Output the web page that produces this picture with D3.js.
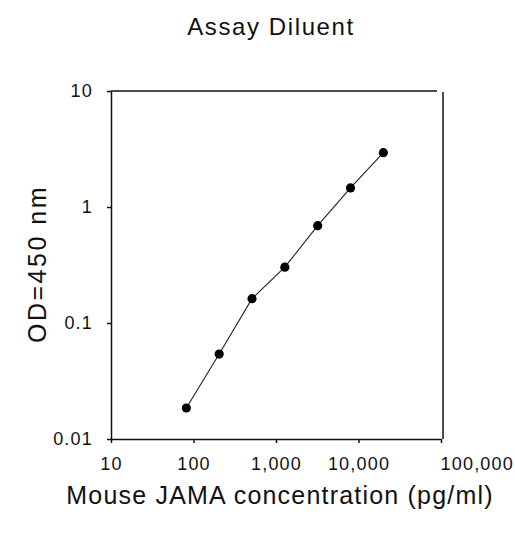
<!DOCTYPE html>
<html>
<head>
<meta charset="utf-8">
<script src="https://d3js.org/d3.v7.min.js"></script>
<style>
  body { margin: 0; background: #fff; }
  text { font-family: "Liberation Sans", Arial, sans-serif; fill: #111; }
  .axis path, .axis line { stroke: #111; stroke-width: 1.5px; }
  .axis text { font-size: 18px; letter-spacing: 1.2px; }
</style>
</head>
<body>
<svg id="chart"></svg>
<script>
// standard curve, 2.5-fold dilutions
const concentrations = [81.92, 204.8, 512, 1280, 3200, 8000, 20000];
const odValues = [0.0185, 0.054, 0.162, 0.303, 0.69, 1.46, 2.94];

const xTicks = [10, 100, 1000, 10000, 100000];
const xTickLabels = ['10', '100', '1,000', '10,000', '100,000'];
const yTicks = [0.01, 0.1, 1, 10];
const yTickLabels = ['0.01', '0.1', '1', '10'];

const data = concentrations.map((c, i) => ({conc: c, od: odValues[i]}));

const svgWidth = 515;
const svgHeight = 535;
const margin = {
  top: 91,
  right: 74,
  bottom: 96,
  left: 111
};
const width = svgWidth - margin.left - margin.right;
const height = svgHeight - margin.top - margin.bottom;

const x = d3.scaleLog()
    .domain([10, 100000])
    .range([0, width]);

const y = d3.scaleLog()
    .domain([0.01, 10])
    .range([height, 0]);

const xAxis = d3.axisBottom(x)
    .tickValues(xTicks)
    .tickFormat((d, i) => xTickLabels[i])
    .tickSize(4)
    .tickSizeOuter(0)
    .tickPadding(14);

const yAxis = d3.axisLeft(y)
    .tickValues(yTicks)
    .tickFormat((d, i) => yTickLabels[i])
    .tickSize(4)
    .tickSizeOuter(0)
    .tickPadding(14);

const svg = d3.select('#chart')
    .attr('width', svgWidth)
    .attr('height', svgHeight);

const chart = svg.append('g')
    .attr('transform', `translate(${margin.left},${margin.top})`);

const gx = chart.append('g')
    .attr('class', 'x axis')
    .attr('transform', `translate(0,${height})`)
    .call(xAxis);

// last label is pushed off to the right of the corner
gx.selectAll('.tick:last-of-type text')
    .style('text-anchor', 'start')
    .attr('dx', -1);

chart.append('g')
    .attr('class', 'y axis')
    .call(yAxis);

// top and right frame lines (the right one sits a little outside)
chart.append('line')
    .attr('x1', 0)
    .attr('x2', width - 4)
    .attr('y1', 0)
    .attr('y2', 0)
    .attr('stroke', '#111')
    .attr('stroke-width', 1.5);

chart.append('line')
    .attr('x1', width + 2)
    .attr('x2', width + 2)
    .attr('y1', 1)
    .attr('y2', height)
    .attr('stroke', '#111')
    .attr('stroke-width', 1.5);

const line = d3.line()
    .x(d => x(d.conc))
    .y(d => y(d.od));

chart.append('path')
    .datum(data)
    .attr('fill', 'none')
    .attr('stroke', '#222')
    .attr('stroke-width', 1.1)
    .attr('d', line);

chart.selectAll('.dot')
    .data(data)
  .enter().append('circle')
    .attr('class', 'dot')
    .attr('cx', d => x(d.conc))
    .attr('cy', d => y(d.od))
    .attr('r', 4.6)
    .attr('fill', '#000');

svg.append('text')
    .attr('x', 271)
    .attr('y', 35)
    .style('text-anchor', 'middle')
    .style('font-size', '24px')
    .style('letter-spacing', '1.6px')
    .text('Assay Diluent');

svg.append('text')
    .attr('x', 280)
    .attr('y', 504)
    .style('text-anchor', 'middle')
    .style('font-size', '25px')
    .style('letter-spacing', '1.2px')
    .text('Mouse JAMA concentration (pg/ml)');

svg.append('text')
    .attr('transform', 'rotate(-90)')
    .attr('x', -264)
    .attr('y', 46)
    .style('text-anchor', 'middle')
    .style('font-size', '25px')
    .style('letter-spacing', '2.5px')
    .text('OD=450 nm');
</script>
</body>
</html>
